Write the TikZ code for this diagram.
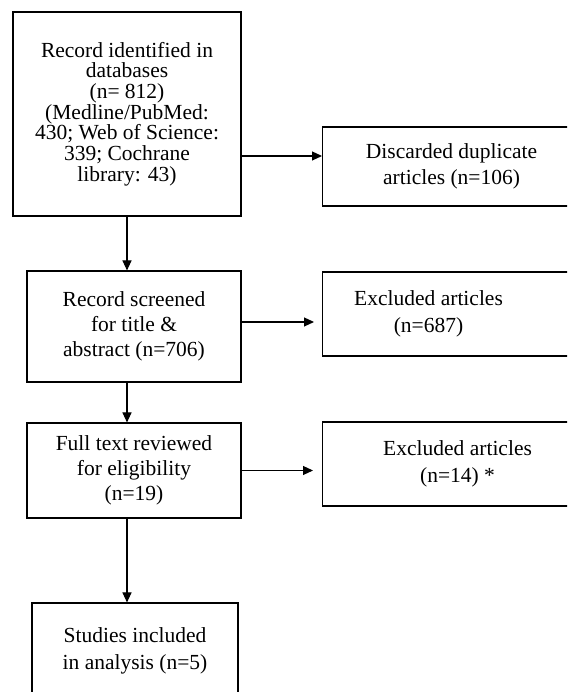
\documentclass[tikz,border=0pt]{standalone}
\usepackage{fontspec}
\setmainfont{Liberation Serif}
\usetikzlibrary{arrows.meta}

\begin{document}
\begin{tikzpicture}[x=1pt,y=1pt,line width=1.1pt,>={Triangle[length=10pt,width=9pt]},
  every node/.style={font=\fontsize{21.5}{26.5}\selectfont},
  mainbox/.style={draw,align=center,inner sep=0pt},
  sidebox/.style={draw,align=center,inner sep=0pt,anchor=west,minimum width=270pt,minimum height=84pt}]
  \useasboundingbox (0,0) rectangle (567,692);
  \clip (0,0) rectangle (567,692);
  % left column
  \node[mainbox,minimum width=228pt,minimum height=204pt,font=\fontsize{21.5}{20.7}\selectfont] (ident) at (127,578)
    {Record identified in\\databases\\(n= 812)\\(Medline/PubMed:\\430; Web of Science:\\339; Cochrane\\library: 43)};
  \node[mainbox,minimum width=214pt,minimum height=111pt,font=\fontsize{21.5}{24.7}\selectfont] (screen) at (134,365.5)
    {Record screened\\for title \&\\abstract (n=706)};
  \node[mainbox,minimum width=214pt,minimum height=95pt,font=\fontsize{21.5}{25}\selectfont] (full) at (134,221.5)
    {Full text reviewed\\for eligibility\\(n=19)};
  \node[mainbox,minimum width=206pt,minimum height=96pt] (incl) at (135,41)
    {Studies included\\in analysis (n=5)};
  % right column (boxes run off the page)
  \node[sidebox,minimum width=258pt,minimum height=79pt] (dup) at (322,525.5)
    {Discarded duplicate\\articles (n=106)};
  \node[sidebox] (excl) at (322,378)
    {\parbox{204pt}{\centering Excluded articles\\(n=687)}\hspace*{58pt}};
  \node[sidebox] (fullexcl) at (322,228) {Excluded articles\\(n=14) *};
  \coordinate (dupin) at ([yshift=10.5pt]dup.west);
  \coordinate (exclout) at ([yshift=4.5pt]screen.east);
  % arrows
  \draw[->] (ident.south) -- (ident.south |- screen.north);
  \draw[->] (screen.south -| ident.south) -- (full.north -| ident.south);
  \draw[->] (full.south -| ident.south) -- (incl.north -| ident.south);
  \draw[->] (dupin -| ident.east) -- (dupin);
  \draw[->,shorten >=8pt] (exclout) -- (exclout -| excl.west);
  \draw[->,shorten >=9pt] (full.east) -- (full.east -| fullexcl.west);
\end{tikzpicture}
\end{document}
